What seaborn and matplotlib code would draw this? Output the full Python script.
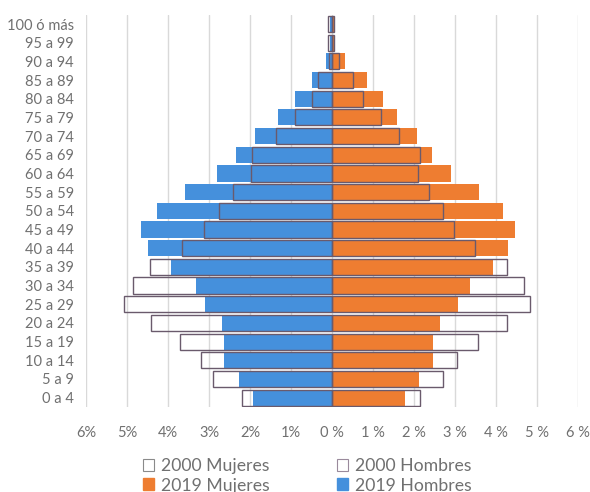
import numpy as np
import pandas as pd
import matplotlib
matplotlib.use("Agg")
import matplotlib.pyplot as plt
import seaborn as sns
from matplotlib.patches import Patch

# grupos de edad, de arriba hacia abajo
grupos = ["100 ó más", "95 a 99", "90 a 94", "85 a 89", "80 a 84", "75 a 79",
          "70 a 74", "65 a 69", "60 a 64", "55 a 59", "50 a 54", "45 a 49",
          "40 a 44", "35 a 39", "30 a 34", "25 a 29", "20 a 24", "15 a 19",
          "10 a 14", "5 a 9", "0 a 4"]

# porcentajes de poblacion
hombres_2019 = [0.05, 0.05, 0.15, 0.49, 0.90, 1.33, 1.87, 2.34, 2.80, 3.58, 4.26,
                4.65, 4.50, 3.94, 3.31, 3.11, 2.68, 2.65, 2.65, 2.28, 1.92]
hombres_2000 = [0.10, 0.10, 0.08, 0.34, 0.49, 0.90, 1.36, 1.95, 1.97, 2.41, 2.75,
                3.13, 3.66, 4.45, 4.86, 5.08, 4.43, 3.72, 3.21, 2.91, 2.19]
mujeres_2019 = [0.05, 0.05, 0.32, 0.85, 1.23, 1.57, 2.06, 2.43, 2.90, 3.58, 4.17,
                4.45, 4.29, 3.93, 3.36, 3.07, 2.63, 2.46, 2.46, 2.12, 1.78]
mujeres_2000 = [0.05, 0.05, 0.17, 0.50, 0.76, 1.19, 1.63, 2.14, 2.10, 2.36, 2.70,
                2.97, 3.48, 4.26, 4.68, 4.82, 4.26, 3.55, 3.04, 2.70, 2.14]

ticks = [-6, -5, -4, -3, -2, -1, 0, 1, 2, 3, 4, 5, 6]
tick_labels = ["6%", "5%", "4%", "3%", "2%", "1%", "0 %",
               "1 %", "2 %", "3 %", "4 %", "5 %", "6 %"]

df = pd.DataFrame({
    "grupo": grupos,
    "h2019": -np.array(hombres_2019),
    "h2000": -np.array(hombres_2000),
    "m2019": mujeres_2019,
    "m2000": mujeres_2000,
})

sns.set_style("white")
plt.rcParams["font.family"] = ["Lato", "DejaVu Sans"]

azul = "#4590dc"
naranja = "#ee7d31"
borde = "#6a5a6c"
gris = "#707070"

fig = plt.figure(figsize=(5.9, 4.92), dpi=100)
ax = fig.add_axes([0.146, 0.173, 0.834, 0.797])

for x in ticks:
    ax.axvline(x, color="#d9d9d9", lw=1, zorder=0)

bw = 0.86
sns.barplot(data=df, x="h2019", y="grupo", order=grupos, color=azul,
            width=bw, errorbar=None, saturation=1, linewidth=0, ax=ax, zorder=2)
sns.barplot(data=df, x="m2019", y="grupo", order=grupos, color=naranja,
            width=bw, errorbar=None, saturation=1, linewidth=0, ax=ax, zorder=2)
sns.barplot(data=df, x="h2000", y="grupo", order=grupos, color=borde, fill=False,
            width=bw, errorbar=None, saturation=1, linewidth=1.0, ax=ax, zorder=3)
sns.barplot(data=df, x="m2000", y="grupo", order=grupos, color=borde, fill=False,
            width=bw, errorbar=None, saturation=1, linewidth=1.0, ax=ax, zorder=3)

ax.set_xlim(-6, 6)
ax.set_ylim(len(grupos) - 0.5, -0.5)
ax.set_xticks(ticks)
ax.set_xticklabels(tick_labels)
ax.set_xlabel("")
ax.set_ylabel("")
ax.tick_params(axis="both", length=0, colors=gris, labelsize=10.5)
ax.tick_params(axis="x", pad=14)
ax.tick_params(axis="y", pad=9)
for s in ax.spines.values():
    s.set_visible(False)

handles = [
    Patch(facecolor="white", edgecolor="#8a8a8a", lw=0.8, label="2000 Mujeres"),
    Patch(facecolor=naranja, edgecolor=naranja, label="2019 Mujeres"),
    Patch(facecolor="white", edgecolor="#9a8a9c", lw=0.8, label="2000 Hombres"),
    Patch(facecolor=azul, edgecolor=azul, label="2019 Hombres"),
]
leg = fig.legend(handles=handles, loc="center", bbox_to_anchor=(0.521, 0.033),
                 ncol=2, frameon=False, fontsize=12.7, handlelength=0.65,
                 handleheight=0.65, handletextpad=0.4, columnspacing=3.8,
                 labelspacing=0.2)
for t in leg.get_texts():
    t.set_color(gris)

fig.savefig("out.png", dpi=100, facecolor="white")
